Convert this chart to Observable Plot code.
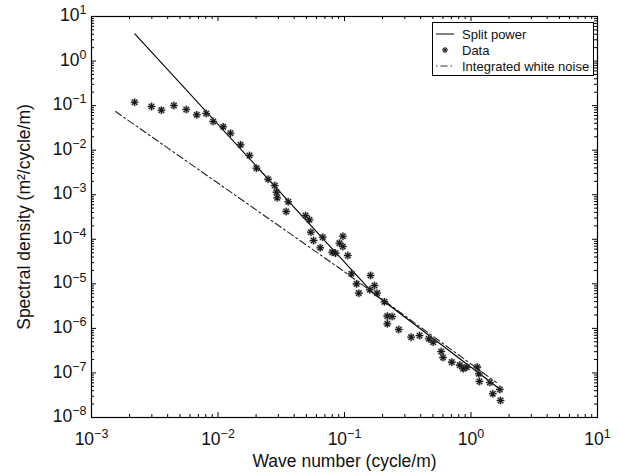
<!DOCTYPE html>
<html><head><meta charset="utf-8">
<script src="https://cdn.jsdelivr.net/npm/d3@7"></script>
<script src="https://cdn.jsdelivr.net/npm/@observablehq/plot@0.6"></script>
<style>
body{margin:0;background:#fff;}
#wrap{position:relative;width:619px;height:474px;font-family:"Liberation Sans",Arial,Helvetica,sans-serif;}
#legend{position:absolute;left:432px;top:22px;width:162px;height:54px;border:1px solid #000;background:#fff;box-sizing:border-box;font-size:13px;color:#111;}
.row{position:absolute;left:0;height:16px;display:flex;align-items:center;white-space:nowrap;}
.row svg{margin-left:3px;margin-right:8px;}
</style></head><body><div id="wrap"></div>
<script>
// Data (wave number in cycle/m, spectral density in m^2/cycle/m)
const waveNumber = [0.00219,0.00298,0.00357,0.00448,0.00561,0.00679,0.00807,0.00916,0.0110,0.01256,
  0.01507,0.01774,0.02014,0.0249,0.0281,0.0290,0.0294,0.0359,0.0346,0.0492,
  0.0528,0.0542,0.0569,0.0673,0.0643,0.0800,0.0849,0.0971,0.0912,0.0971,
  0.1062,0.1135,0.1607,0.1245,0.1297,0.1726,0.1585,0.181,0.207,0.218,
  0.238,0.218,0.2685,0.3365,0.392,0.4634,0.5023,0.5807,0.601,0.705,
  0.815,0.867,0.927,1.12,1.153,1.167,1.409,1.486,1.690,1.711];
const density = [0.119,0.0955,0.0789,0.1007,0.0818,0.0622,0.0665,0.0440,0.0335,0.0240,
  0.0132,0.0076,0.00394,0.00223,0.00161,0.00114,0.000853,0.000695,0.000421,0.000342,
  0.000274,0.000144,9.4e-5,0.000111,6.44e-5,5.13e-5,4.88e-5,0.000117,8.17e-5,6.89e-5,
  4.33e-5,1.68e-5,1.54e-5,1.0e-5,6.17e-6,9.18e-6,7.36e-6,6.17e-6,3.95e-6,1.88e-6,
  1.85e-6,1.27e-6,9.46e-7,6.35e-7,6.93e-7,5.85e-7,4.91e-7,3.03e-7,2.22e-7,1.75e-7,
  1.50e-7,1.24e-7,1.35e-7,1.35e-7,9.6e-8,6.44e-8,6.11e-8,3.41e-8,4.26e-8,2.41e-8];
const splitK = [0.0022, 0.166, 1.71];
const splitS = [4.09, 6.4e-6, 4.26e-8];
const noiseK = [0.00155, 0.093, 1.59];
const noiseS = [0.0738, 2.16e-5, 6.1e-8];
const xDecades = [1e-3, 1e-2, 1e-1, 1, 10];
const xExps = ["\u22123", "\u22122", "\u22121", "0", "1"];
const yDecades = [1e-8, 1e-7, 1e-6, 1e-5, 1e-4, 1e-3, 1e-2, 1e-1, 1, 10];
const yExps = ["\u22128", "\u22127", "\u22126", "\u22125", "\u22124", "\u22123", "\u22122", "\u22121", "0", "1"];
const minorMult = [2, 3, 4, 5, 6, 7, 8, 9];
const xLabel = "Wave number (cycle/m)";
const yLabel = "Spectral density (m\u00B2/cycle/m)";
const legendLabels = ["Split power", "Data", "Integrated white noise"];

const pts = waveNumber.map((k, i) => ({k, s: density[i]}));
const split = splitK.map((k, i) => ({k, s: splitS[i]}));
const noise = noiseK.map((k, i) => ({k, s: noiseS[i]}));
const xMinor = xDecades.slice(0, -1).flatMap(d => minorMult.map(m => d * m));
const yMinor = yDecades.slice(0, -1).flatMap(d => minorMult.map(m => d * m));
const xTickData = xDecades.map((v, i) => ({v, e: xExps[i]}));
const yTickData = yDecades.map((v, i) => ({v, e: yExps[i]}));

const W = 619, H = 474, mt = 16, mb = 57, ml = 91, mr = 22;
const ph = H - mt - mb, pw = W - ml - mr;
const major = 5, minor = 3;

const asterisk = {
  draw(ctx, size) {
    const r = Math.sqrt(size / Math.PI), d = r * Math.SQRT1_2;
    ctx.moveTo(-r, 0); ctx.lineTo(r, 0);
    ctx.moveTo(0, -r); ctx.lineTo(0, r);
    ctx.moveTo(-d, -d); ctx.lineTo(d, d);
    ctx.moveTo(-d, d); ctx.lineTo(d, -d);
  }
};

const font = '"Liberation Sans", Arial, Helvetica, sans-serif';
const chart = Plot.plot({
  width: W, height: H, marginTop: mt, marginBottom: mb, marginLeft: ml, marginRight: mr,
  style: {fontFamily: font, background: "#fff", color: "#111"},
  x: {type: "log", domain: [1e-3, 10], axis: null},
  y: {type: "log", domain: [1e-8, 10], axis: null},
  marks: [
    Plot.tickX(xDecades, {x: d => d, insetTop: ph - major, stroke: "#000"}),
    Plot.tickX(xDecades, {x: d => d, insetBottom: ph - major, stroke: "#000"}),
    Plot.tickX(xMinor, {x: d => d, insetTop: ph - minor, stroke: "#000"}),
    Plot.tickX(xMinor, {x: d => d, insetBottom: ph - minor, stroke: "#000"}),
    Plot.tickY(yDecades, {y: d => d, insetRight: pw - major, stroke: "#000"}),
    Plot.tickY(yDecades, {y: d => d, insetLeft: pw - major, stroke: "#000"}),
    Plot.tickY(yMinor, {y: d => d, insetRight: pw - minor, stroke: "#000"}),
    Plot.tickY(yMinor, {y: d => d, insetLeft: pw - minor, stroke: "#000"}),
    Plot.frame({stroke: "#000", strokeWidth: 1.2}),
    Plot.line(noise, {x: "k", y: "s", stroke: "#222", strokeWidth: 1.1, strokeDasharray: "7,3,2,3"}),
    Plot.line(split, {x: "k", y: "s", stroke: "#000", strokeWidth: 1.1}),
    Plot.dot(pts, {x: "k", y: "s", symbol: asterisk, r: 4, stroke: "#555", strokeWidth: 2.2, strokeOpacity: 0.45}),
    Plot.dot(pts, {x: "k", y: "s", symbol: asterisk, r: 3.8, stroke: "#1a1a1a", strokeWidth: 1.1}),
    Plot.text(xTickData, {x: "v", text: d => "10|" + d.e, frameAnchor: "bottom", dy: 27, textAnchor: "middle", fontSize: 17.5, fill: "#111"}),
    Plot.text(yTickData, {y: "v", text: d => "10|" + d.e, frameAnchor: "left", dx: -5, dy: -1, textAnchor: "end", fontSize: 17.5, fill: "#111"}),
    Plot.text([xLabel], {text: d => d, frameAnchor: "bottom", dy: 49, textAnchor: "middle", fontSize: 17.5, fill: "#111"}),
    Plot.text([yLabel], {text: d => d, frameAnchor: "left", dx: -67, rotate: -90, textAnchor: "middle", fontSize: 17.5, fill: "#111"})
  ]
});

// turn "10|e" labels into base + superscript
chart.querySelectorAll("text").forEach(node => {
  const s = node.textContent;
  if (s.indexOf("|") < 0) return;
  const [base, ex] = s.split("|");
  while (node.firstChild) node.removeChild(node.firstChild);
  const t = d3.select(node);
  t.append("tspan").text(base);
  t.append("tspan").attr("dy", "-0.55em").attr("font-size", "12.5px").text(ex);
});

const wrap = document.getElementById("wrap");
wrap.appendChild(chart);

// Legend inside the axes box
const lg = document.createElement("div");
lg.id = "legend";
const swatches = [
  '<svg width="18" height="10"><line x1="0" y1="5" x2="18" y2="5" stroke="#000" stroke-width="1"/></svg>',
  '<svg width="18" height="10"><g transform="translate(9,5)" stroke="#222" stroke-width="1.1"><line x1="-3" y1="0" x2="3" y2="0"/><line x1="0" y1="-3" x2="0" y2="3"/><line x1="-2.1" y1="-2.1" x2="2.1" y2="2.1"/><line x1="-2.1" y1="2.1" x2="2.1" y2="-2.1"/></g></svg>',
  '<svg width="18" height="10"><line x1="0" y1="5" x2="18" y2="5" stroke="#333" stroke-width="1" stroke-dasharray="1.5,3,7,3"/></svg>'
];
legendLabels.forEach((lab, i) => {
  const r = document.createElement("div");
  r.className = "row";
  r.style.top = (3 + i * 16) + "px";
  r.innerHTML = swatches[i] + "<span></span>";
  r.querySelector("span").textContent = lab;
  lg.appendChild(r);
});
wrap.appendChild(lg);
</script>
</body></html>
